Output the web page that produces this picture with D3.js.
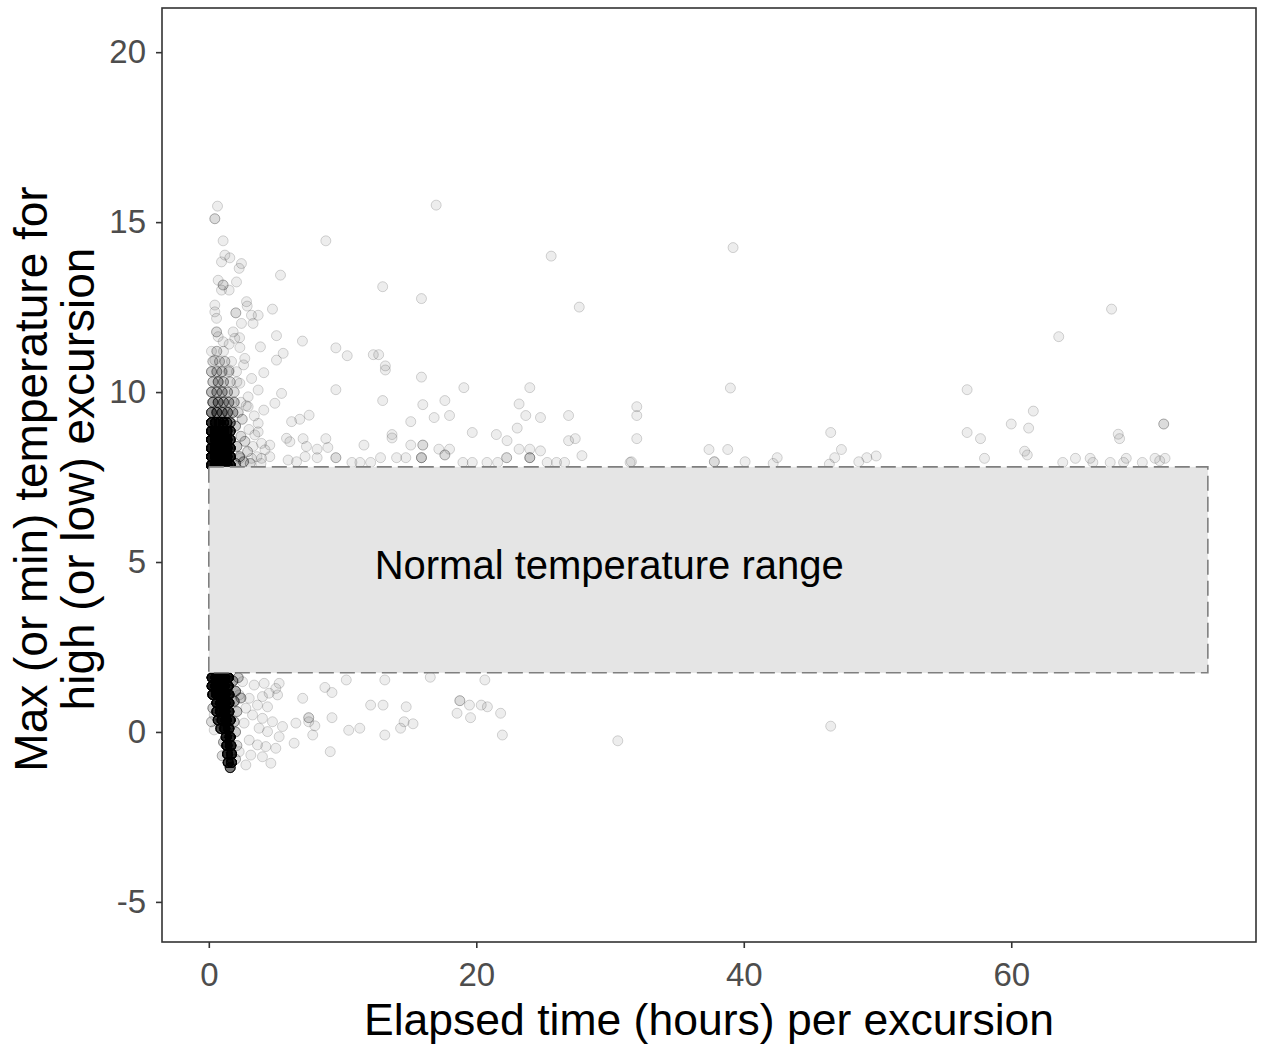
<!DOCTYPE html>
<html>
<head>
<meta charset="utf-8">
<script src="https://cdnjs.cloudflare.com/ajax/libs/d3/7.8.5/d3.min.js"></script>
<style>
  html, body { margin: 0; padding: 0; background: #fff; }
  svg { display: block; font-family: "Liberation Sans", Arial, sans-serif; }
</style>
</head>
<body>
<svg id="chart" width="1261" height="1045"></svg>
<script>
// ---------- DATA ----------
// Each entry: [elapsed hours, max/min temperature, number of overlapping excursions]
const xTicks = [0, 20, 40, 60];
const yTicks = [-5, 0, 5, 10, 15, 20];
const xTickLabels = ["0", "20", "40", "60"];
const yTickLabels = ["-5", "0", "5", "10", "15", "20"];

const normalRange = { hoursMin: 0, hoursMax: 74.7, tempMin: 1.74, tempMax: 7.8 };
const annotationText = "Normal temperature range";
const annotationPos = [12.4, 4.5];

// dense core of short high excursions
const highDense = [
  [0.2,7.85,30],[0.5,7.85,30],[0.8,7.85,30],[1.1,7.85,30],[1.35,7.85,30],[1.6,7.85,26],
  [0.2,8.1,30],[0.5,8.1,30],[0.8,8.1,30],[1.1,8.1,30],[1.35,8.1,30],[1.6,8.1,26],
  [0.2,8.35,30],[0.5,8.35,30],[0.8,8.35,30],[1.1,8.35,30],[1.35,8.35,30],[1.6,8.35,24],
  [0.2,8.6,30],[0.5,8.6,30],[0.8,8.6,30],[1.1,8.6,30],[1.35,8.6,28],[1.6,8.6,20],
  [0.2,8.85,28],[0.5,8.85,30],[0.8,8.85,30],[1.1,8.85,28],[1.35,8.85,24],[1.6,8.85,16],
  [0.2,9.1,20],[0.5,9.1,22],[0.8,9.1,20],[1.1,9.1,16],[1.35,9.1,12],[1.6,9.1,8]
];
// fading band above the core
const highHalo = [
  [0.2,9.4,8],[0.6,9.4,8],[1.0,9.4,7],[1.4,9.4,6],[1.8,9.4,4],[2.2,9.4,2],
  [0.3,9.7,6],[0.7,9.7,6],[1.1,9.7,5],[1.5,9.7,4],[1.9,9.7,3],[2.4,9.7,1],
  [0.2,10.0,4],[0.6,10.0,4],[1.0,10.0,4],[1.4,10.0,3],[1.9,10.0,2],
  [0.3,10.3,3],[0.7,10.3,4],[1.1,10.3,3],[1.6,10.3,2],[2.1,10.3,1],
  [0.2,10.6,3],[0.6,10.6,3],[1.0,10.6,2],[1.5,10.6,2],
  [0.3,10.9,2],[0.8,10.9,2],[1.2,10.9,2],[1.7,10.9,1],
  [0.2,11.2,1],[0.6,11.2,2],[1.1,11.2,1],
  [2.0,7.9,4],[2.3,8.1,3],[2.1,8.4,3],[2.4,8.7,2],[2.0,9.0,3],[2.6,7.95,3],[2.9,8.25,2],
  [3.1,7.9,2],[2.7,8.55,2],[3.3,8.4,1],[3.6,8.1,1],[3.9,7.9,1],[2.5,9.2,2],[3.0,8.9,1],
  [4.2,8.3,1],[3.4,9.3,1],[2.8,9.6,1],[3.2,10.4,1],[2.6,10.8,1],[2.3,11.6,1]
];
// individually readable high excursions
const highSparse = [
  [0.65,15.47,1],[0.45,15.1,2],[1.07,14.45,1],[1.2,14.03,1],[1.57,13.95,1],[0.95,13.83,1],
  [2.44,13.78,1],[2.27,13.64,1],[5.36,13.44,1],[0.7,13.29,1],[1.07,13.15,2],[0.95,13.0,1],
  [1.52,13.0,1],[2.07,13.24,1],[2.82,12.66,1],[2.87,12.53,1],[2.02,12.33,2],[0.45,12.56,1],
  [0.45,12.36,1],[0.58,12.17,1],[4.76,12.44,1],[3.69,12.26,1],[3.19,12.26,1],[3.31,12.02,1],
  [2.44,12.02,1],[0.58,11.77,2],[0.7,11.63,1],[1.07,11.48,1],[1.82,11.77,1],[1.94,11.58,1],
  [5.06,11.66,1],[3.86,11.33,1],[2.32,11.31,1],[1.52,11.41,1],[5.56,11.14,1],[5.06,10.94,1],
  [4.11,10.57,1],[3.69,10.06,1],[2.69,10.99,1],[0.45,10.94,1],[0.95,10.6,1],[1.52,10.65,1],
  [2.07,10.6,1],[2.32,10.26,1],[5.44,9.96,1],[4.94,9.67,1],[4.11,9.47,1],[3.69,9.08,1],
  [2.94,9.86,1],[2.94,9.57,1],[6.19,9.13,1],[5.81,8.64,1],[6.06,8.54,1],[4.56,8.44,1],
  [3.94,8.49,1],[3.69,8.83,1],[3.44,8.74,1],[2.32,8.05,1],[3.19,8.05,1],[3.94,8.05,1],
  [4.56,8.1,1],[5.93,8.0,1],[6.56,7.95,1],
  [17.0,15.5,1],[8.75,14.45,1],[25.6,14.0,1],[13.0,13.1,1],[15.9,12.75,1],[27.7,12.5,1],
  [7.0,11.5,1],[9.5,11.3,1],[10.35,11.07,1],[12.3,11.1,1],[12.7,11.1,1],[13.2,10.77,1],
  [13.2,10.65,1],[15.9,10.44,1],[9.5,10.07,1],[19.07,10.13,1],[24.0,10.13,1],[13.0,9.75,1],
  [17.65,9.75,1],[16.0,9.63,1],[23.2,9.65,1],[7.5,9.32,1],[6.8,9.2,1],[18.0,9.31,1],
  [16.85,9.25,1],[23.7,9.31,1],[24.8,9.25,1],[26.9,9.31,1],[32.0,9.57,1],[32.0,9.31,1],
  [32.0,8.63,1],[15.1,9.13,1],[19.7,8.81,1],[21.5,8.75,1],[23.06,8.94,1],[22.3,8.57,1],
  [13.7,8.75,1],[13.7,8.65,1],[8.75,8.63,1],[7.05,8.63,1],[26.9,8.57,1],[27.4,8.63,1],
  [11.6,8.44,1],[15.1,8.44,1],[16.0,8.44,2],[8.1,8.32,1],[8.9,8.37,1],[17.2,8.32,1],
  [18.0,8.32,1],[23.2,8.32,1],[24.0,8.32,1],[24.8,8.27,1],[27.9,8.13,1],[17.65,8.15,2],
  [8.1,8.07,1],[9.5,8.07,2],[12.84,8.07,1],[14.04,8.07,1],[14.73,8.07,1],[15.9,8.07,3],
  [22.27,8.07,2],[24.0,8.07,3],[10.7,7.93,1],[11.3,7.93,1],[12.1,7.93,1],[19.0,7.93,1],
  [19.7,7.93,1],[20.8,7.93,1],[21.6,7.93,1],[25.3,7.93,1],[26.0,7.93,1],[26.6,7.93,1],
  [31.5,7.93,1],[7.2,8.1,1],[7.3,8.4,1],
  [39.2,14.25,1],[39.0,10.12,1],[31.6,7.95,1],[37.4,8.31,1],[38.8,8.31,1],[37.8,7.95,2],
  [40.1,7.95,1],[42.5,8.07,1],[42.2,7.9,1],[46.5,8.81,1],[47.3,8.31,1],[46.8,8.07,1],
  [46.4,7.88,1],[48.6,7.95,1],[49.2,8.07,1],[49.9,8.12,1],
  [67.5,12.44,1],[63.55,11.63,1],[56.7,10.07,1],[61.65,9.44,1],[60.0,9.06,1],[61.3,8.94,1],
  [56.7,8.81,1],[57.7,8.63,1],[71.4,9.06,2],[68.0,8.76,1],[68.1,8.63,1],[61.0,8.26,1],
  [61.2,8.15,1],[58.0,8.05,1],[63.85,7.93,1],[64.8,8.05,1],[65.9,8.05,1],[66.1,7.93,1],
  [67.4,7.93,1],[68.6,8.05,1],[68.4,7.93,1],[69.8,7.93,1],[70.75,8.05,1],[71.1,7.98,1],
  [71.5,8.05,1]
];

// dense core of short low excursions
const lowDense = [
  [0.25,1.6,30],[0.55,1.6,30],[0.85,1.6,30],[1.15,1.6,30],[1.45,1.6,30],
  [0.25,1.35,30],[0.55,1.35,30],[0.85,1.35,30],[1.15,1.35,30],[1.45,1.35,30],
  [0.3,1.1,22],[0.6,1.1,30],[0.9,1.1,30],[1.2,1.1,30],[1.5,1.1,30],
  [0.6,0.85,26],[0.9,0.85,28],[1.2,0.85,28],[1.5,0.85,28],
  [0.6,0.6,18],[0.9,0.6,26],[1.2,0.6,26],[1.5,0.6,26],
  [0.7,0.35,16],[1.0,0.35,24],[1.3,0.35,26],[1.6,0.35,22],
  [0.9,0.1,16],[1.2,0.1,24],[1.5,0.1,24],
  [1.3,-0.15,24],[1.6,-0.15,24],
  [1.35,-0.4,24],[1.65,-0.4,24],
  [1.4,-0.65,22],[1.7,-0.65,22],
  [1.45,-0.9,18],[1.7,-0.9,18],
  [1.6,-1.05,10]
];
const lowHalo = [
  [1.8,1.5,5],[2.0,1.2,5],[1.9,0.9,5],[2.1,0.6,3],[1.9,0.3,3],[2.2,1.6,3],[2.4,1.0,3],
  [0.3,0.7,3],[0.2,0.3,2],[2.0,0.0,3],[2.1,-0.4,2],[1.1,-0.3,3],[1.0,-0.7,2],[2.0,-0.8,2]
];
// individually readable low excursions
const lowSparse = [
  [2.52,1.48,1],[3.39,1.38,1],[4.14,1.43,1],[5.01,1.28,1],[5.26,1.43,1],[2.27,1.09,1],
  [3.02,0.99,1],[4.01,1.04,1],[4.51,1.14,1],[5.14,1.09,1],[2.77,0.70,1],[3.64,0.79,1],
  [4.39,0.74,1],[3.27,0.50,1],[4.01,0.40,1],[4.76,0.30,1],[5.51,0.16,1],[2.64,0.26,1],
  [3.76,0.11,1],[4.39,0.01,1],[5.26,-0.14,1],[3.02,-0.24,1],[3.64,-0.38,1],[4.26,-0.43,1],
  [5.01,-0.48,1],[2.27,-0.58,1],[3.14,-0.68,1],[4.01,-0.73,1],[2.77,-0.97,1],[4.64,-0.92,1],
  [6.51,0.26,1],[6.38,-0.33,1],[0.40,0.50,1],[0.40,0.06,1],[0.77,0.26,1],
  [10.28,1.53,1],[13.16,1.53,1],[16.56,1.61,1],[20.64,1.53,1],[8.68,1.31,1],[9.21,1.16,1],
  [7.02,0.99,1],[12.1,0.79,1],[13.03,0.79,1],[14.76,0.74,1],[18.77,0.92,2],[19.49,0.79,1],
  [20.37,0.79,1],[20.83,0.74,1],[18.56,0.55,1],[19.57,0.42,1],[21.82,0.55,1],[7.47,0.42,2],
  [7.47,0.30,1],[7.93,0.18,1],[9.21,0.42,1],[10.46,0.05,1],[11.29,0.11,1],[14.6,0.30,1],
  [14.34,0.11,1],[15.27,0.24,1],[7.77,-0.09,1],[13.16,-0.09,1],[21.95,-0.09,1],[9.08,-0.58,1],
  [30.58,-0.26,1],[46.5,0.17,1]
];

// ---------- CHART ----------
const W = 1261, H = 1045;
const panel = { left: 162, right: 1256, top: 8, bottom: 942 };
const svg = d3.select("#chart");

const x = d3.scaleLinear().domain([-3.5, 78.3]).range([panel.left, panel.right]);
const y = d3.scaleLinear().domain([-6.18, 21.3]).range([panel.bottom, panel.top]);

svg.append("rect").attr("width", W).attr("height", H).attr("fill", "#fff");

svg.append("defs").append("clipPath").attr("id", "panelClip")
  .append("rect")
  .attr("x", panel.left).attr("y", panel.top)
  .attr("width", panel.right - panel.left).attr("height", panel.bottom - panel.top);

const allGroups = [highSparse, highHalo, highDense, lowSparse, lowHalo, lowDense];
const expanded = [];
allGroups.forEach(g => g.forEach(([h, t, n]) => { for (let i = 0; i < n; i++) expanded.push([h, t]); }));

const pts = svg.append("g").attr("clip-path", "url(#panelClip)");
pts.selectAll("circle").data(expanded).join("circle")
  .attr("cx", d => x(d[0]))
  .attr("cy", d => y(d[1]))
  .attr("r", 5)
  .attr("fill", "#000").attr("fill-opacity", 0.07)
  .attr("stroke", "#000").attr("stroke-opacity", 0.16).attr("stroke-width", 1);

// normal range box (drawn above the points, as in the original)
svg.append("rect")
  .attr("x", x(normalRange.hoursMin))
  .attr("y", y(normalRange.tempMax))
  .attr("width", x(normalRange.hoursMax) - x(normalRange.hoursMin))
  .attr("height", y(normalRange.tempMin) - y(normalRange.tempMax))
  .attr("fill", "#e5e5e5")
  .attr("stroke", "#7f7f7f")
  .attr("stroke-width", 1.6)
  .attr("stroke-dasharray", "15,6");

svg.append("text")
  .attr("x", x(annotationPos[0]))
  .attr("y", y(annotationPos[1]))
  .attr("font-size", 40)
  .attr("fill", "#000")
  .text(annotationText);

// panel border
svg.append("rect")
  .attr("x", panel.left).attr("y", panel.top)
  .attr("width", panel.right - panel.left).attr("height", panel.bottom - panel.top)
  .attr("fill", "none").attr("stroke", "#333").attr("stroke-width", 1.6);

// axes
const xAxis = svg.append("g").attr("transform", `translate(0,${panel.bottom})`)
  .call(d3.axisBottom(x).tickValues(xTicks).tickFormat((d, i) => xTickLabels[i]).tickSize(6).tickPadding(15));
const yAxis = svg.append("g").attr("transform", `translate(${panel.left},0)`)
  .call(d3.axisLeft(y).tickValues(yTicks).tickFormat((d, i) => yTickLabels[i]).tickSize(6).tickPadding(10));
[xAxis, yAxis].forEach(a => {
  a.select(".domain").remove();
  a.selectAll(".tick line").attr("stroke", "#333").attr("stroke-width", 1.6);
  a.selectAll(".tick text").attr("fill", "#4d4d4d").attr("font-size", 33)
    .attr("font-family", "'Liberation Sans', Arial, sans-serif");
});

// axis titles
svg.append("text")
  .attr("x", (panel.left + panel.right) / 2)
  .attr("y", 1035)
  .attr("text-anchor", "middle")
  .attr("font-size", 44.5)
  .attr("fill", "#000")
  .text("Elapsed time (hours) per excursion");

const yMid = (panel.top + panel.bottom) / 2 + 4;
const yTitle = svg.append("g").attr("transform", `translate(0,${yMid}) rotate(-90)`);
yTitle.append("text").attr("x", 0).attr("y", 47).attr("text-anchor", "middle")
  .attr("font-size", 46).attr("fill", "#000").text("Max (or min) temperature for");
yTitle.append("text").attr("x", 0).attr("y", 94).attr("text-anchor", "middle")
  .attr("font-size", 46).attr("fill", "#000").text("high (or low) excursion");
</script>
</body>
</html>
